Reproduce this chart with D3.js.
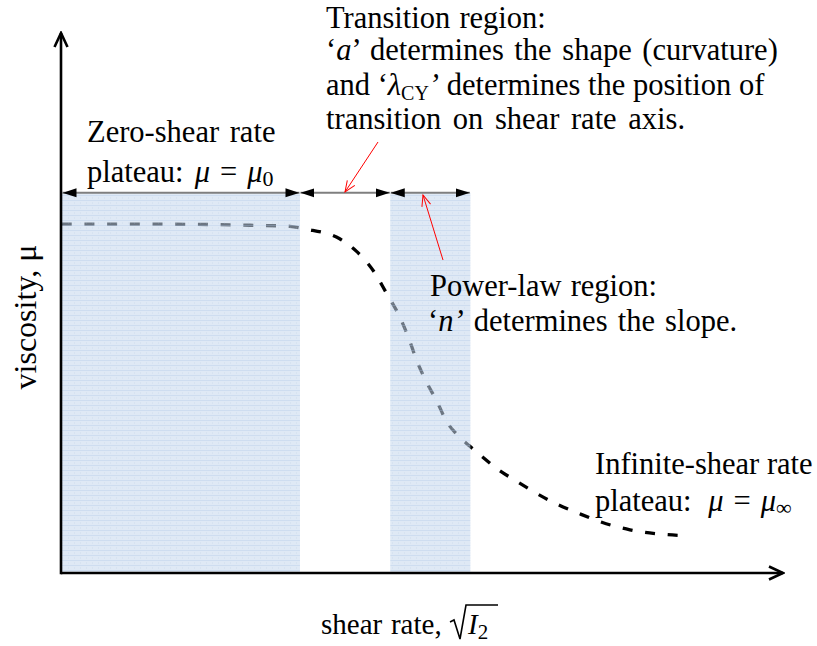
<!DOCTYPE html>
<html>
<head>
<meta charset="utf-8">
<script src="https://cdn.jsdelivr.net/npm/d3@7"></script>
<style>
  html, body { margin: 0; padding: 0; background: #fff; }
  svg { display: block; }
  text { font-family: "Liberation Serif", "Times New Roman", serif; fill: #000; }
</style>
</head>
<body>
<svg id="chart" width="817" height="646"></svg>
<script>
// Carreau–Yasuda style viscosity curve (schematic, arbitrary units)
const curveShear     = [0.1, 12.3, 26.2, 31.7, 33.9, 38.6, 40.9, 43.4, 45.0, 46.7, 48.1, 49.2, 50.6, 52.1, 53.3, 54.8, 56.6, 58.2, 60.4, 63.2, 65.8, 68.6, 71.6, 74.9, 78.8, 82.3, 86.7];
const curveViscosity = [64.6, 64.6, 64.4, 64.2, 63.7, 61.9, 59.6, 55.7, 52.0, 48.0, 43.7, 39.6, 35.4, 31.7, 28.3, 25.7, 23.5, 21.7, 19.3, 16.9, 14.8, 12.8, 11.1, 9.4, 8.0, 7.3, 6.9];

// Regions along the shear-rate axis
const regionNames = ["zero-shear plateau", "transition", "power-law"];
const regionStart = [0, 33.1, 45.6];
const regionEnd   = [33.1, 45.6, 56.7];
const regionShaded = [true, false, true];
const regionTop = 70.4;

const shearDomain = [0, 100];
const viscosityDomain = [0, 100];

const svg = d3.select("#chart");
const x = d3.scaleLinear().domain(shearDomain).range([61, 783]);
const y = d3.scaleLinear().domain(viscosityDomain).range([573, 33]);

const defs = svg.append("defs");

// light-blue hatched fill for shaded regions
const pat = defs.append("pattern").attr("id", "shade").attr("patternUnits", "userSpaceOnUse")
  .attr("width", 6).attr("height", 5);
pat.append("rect").attr("width", 6).attr("height", 5).attr("fill", "rgb(196,215,236)").attr("fill-opacity", 0.55);
pat.append("rect").attr("y", 0).attr("width", 6).attr("height", 1).attr("fill", "rgb(170,198,230)").attr("fill-opacity", 0.3);
pat.append("rect").attr("x", 2).attr("y", 2.5).attr("width", 1).attr("height", 1).attr("fill", "rgb(180,200,225)").attr("fill-opacity", 0.3);

// solid arrowheads for the region span arrows
defs.append("marker").attr("id", "spanEnd").attr("viewBox", "0 -5 14 10")
  .attr("refX", 14).attr("refY", 0).attr("markerUnits", "userSpaceOnUse")
  .attr("markerWidth", 14).attr("markerHeight", 10).attr("orient", "auto")
  .append("path").attr("d", "M0,-4.5L14,0L0,4.5Z").attr("fill", "#000");
defs.append("marker").attr("id", "spanStart").attr("viewBox", "0 -5 14 10")
  .attr("refX", 0).attr("refY", 0).attr("markerUnits", "userSpaceOnUse")
  .attr("markerWidth", 14).attr("markerHeight", 10).attr("orient", "auto")
  .append("path").attr("d", "M14,-4.5L0,0L14,4.5Z").attr("fill", "#000");

// open chevron for axes
defs.append("marker").attr("id", "axisHead").attr("viewBox", "-16 -8 18 16")
  .attr("refX", 0).attr("refY", 0).attr("markerUnits", "userSpaceOnUse")
  .attr("markerWidth", 18).attr("markerHeight", 16).attr("orient", "auto")
  .append("path").attr("d", "M-14,-6.5L0,0L-14,6.5").attr("fill", "none")
  .attr("stroke", "#000").attr("stroke-width", 2.6);

// thin red pointer heads
defs.append("marker").attr("id", "redHead").attr("viewBox", "-14 -6 16 12")
  .attr("refX", 0).attr("refY", 0).attr("markerUnits", "userSpaceOnUse")
  .attr("markerWidth", 16).attr("markerHeight", 12).attr("orient", "auto")
  .append("path").attr("d", "M-11,-4.5L0,0L-11,4.5").attr("fill", "none")
  .attr("stroke", "#ff0000").attr("stroke-width", 1);

// viscosity curve
const curveData = curveShear.map((s, i) => [s, curveViscosity[i]]);
const line = d3.line().x(d => x(d[0])).y(d => y(d[1])).curve(d3.curveMonotoneX);
svg.append("path").datum(curveData)
  .attr("d", line)
  .attr("fill", "none").attr("stroke", "#000").attr("stroke-width", 3.3)
  .attr("stroke-dasharray", "10,12.7");

// shaded regions, translucent over the curve
const regions = regionNames.map((n, i) => ({ name: n, s: regionStart[i], e: regionEnd[i], shaded: regionShaded[i] }));
svg.selectAll("rect.region").data(regions.filter(r => r.shaded)).join("rect")
  .attr("class", "region")
  .attr("x", d => x(d.s)).attr("width", d => x(d.e) - x(d.s))
  .attr("y", y(regionTop)).attr("height", y(0) - y(regionTop))
  .attr("fill", "url(#shade)");

// span arrows above each region
svg.selectAll("line.span").data(regions).join("line")
  .attr("class", "span")
  .attr("x1", d => x(d.s) + (d.s === 0 ? 1.5 : 0.5)).attr("x2", d => x(d.e) - 0.5)
  .attr("y1", y(regionTop)).attr("y2", y(regionTop))
  .attr("stroke", "#7f7f7f").attr("stroke-width", 2)
  .attr("marker-start", "url(#spanStart)").attr("marker-end", "url(#spanEnd)");

// axes
svg.append("line")
  .attr("x1", x(0)).attr("y1", y(0)).attr("x2", x(shearDomain[1])).attr("y2", y(0))
  .attr("stroke", "#000").attr("stroke-width", 2.6).attr("marker-end", "url(#axisHead)");
svg.append("line")
  .attr("x1", x(0)).attr("y1", y(0) + 1.3).attr("x2", x(0)).attr("y2", y(viscosityDomain[1]))
  .attr("stroke", "#000").attr("stroke-width", 2.6).attr("marker-end", "url(#axisHead)");

// red pointers
const pointers = [
  { from: [378, 142], to: [345, 192] },
  { from: [443, 260], to: [423, 195] }
];
svg.selectAll("line.pointer").data(pointers).join("line")
  .attr("class", "pointer")
  .attr("x1", d => d.from[0]).attr("y1", d => d.from[1])
  .attr("x2", d => d.to[0]).attr("y2", d => d.to[1])
  .attr("stroke", "#ff0000").attr("stroke-width", 1)
  .attr("marker-end", "url(#redHead)");

// annotation text
const FS = 30.5;
function addLine(px, py, parts, opts) {
  const t = svg.append("text").attr("x", px).attr("y", py).attr("font-size", (opts && opts.fs) || FS)
    .attr("word-spacing", (opts && opts.ws !== undefined) ? opts.ws : 1.5);
  parts.forEach(p => {
    const s = t.append("tspan").text(p.t);
    if (p.it) s.attr("font-style", "italic");
    if (p.sub) s.attr("font-size", p.fs || 21).attr("dy", p.sub);
    if (p.dx) s.attr("dx", p.dx);
    if (p.up) s.attr("dy", p.up);
  });
  return t;
}

addLine(326, 27.5, [{ t: "Transition region:" }]);
addLine(326, 60, [{ t: "‘" }, { t: "a", it: true }, { t: "’ determines the shape (curvature)" }], { ws: 3 });
addLine(326, 94.5, [{ t: "and ‘" }, { t: "λ", it: true }, { t: "CY", sub: 5, fs: 20 }, { t: "’", up: -5, it: true }, { t: " determines the position of" }], { ws: 0 });
addLine(326, 129, [{ t: "transition on shear rate axis." }], { ws: 4 });

addLine(87, 142, [{ t: "Zero-shear rate" }], { ws: 3 });
addLine(87, 182, [{ t: "plateau: " }, { t: "μ", it: true, dx: 2 }, { t: "=", dx: 10 }, { t: "μ", it: true, dx: 10 }, { t: "0", sub: 4, fs: 22 }]);

addLine(430, 296, [{ t: "Power-law region:" }]);
addLine(428, 331, [{ t: "‘" }, { t: "n", it: true }, { t: "’", it: true }, { t: " determines the slope." }], { ws: 2.5 });

addLine(595, 474, [{ t: "Infinite-shear rate" }], { ws: 0 });
addLine(595, 511, [{ t: "plateau: " }, { t: "μ", it: true, dx: 9 }, { t: "=", dx: 10 }, { t: "μ", it: true, dx: 10 }, { t: "∞", sub: 4, fs: 22 }], { ws: 0 });

// axis titles
svg.append("text").attr("transform", "translate(36,317) rotate(-90)")
  .attr("text-anchor", "middle").attr("font-size", 32).text("viscosity, μ");

addLine(321, 634, [{ t: "shear rate," }], { fs: 29 });
// square-root sign with I₂
const rootX = 450, rootBase = 634;
svg.append("path")
  .attr("d", `M${rootX},${rootBase - 12} L${rootX + 4},${rootBase - 14} L${rootX + 10},${rootBase + 5} L${rootX + 16},${rootBase - 29} L${rootX + 48},${rootBase - 29}`)
  .attr("fill", "none").attr("stroke", "#000").attr("stroke-width", 1.6);
addLine(rootX + 18, rootBase, [{ t: "I", it: true }, { t: "2", sub: 5, fs: 21 }], { fs: 29 });
</script>
</body>
</html>
